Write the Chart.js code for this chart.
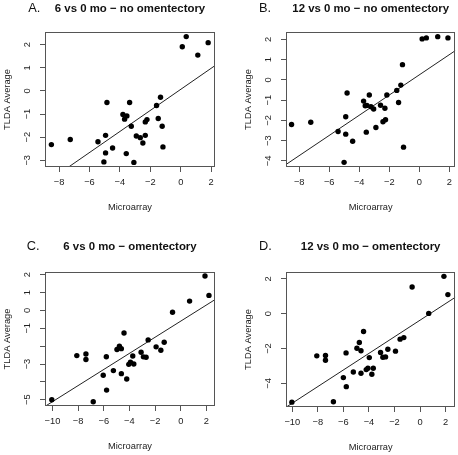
<!DOCTYPE html>
<html>
<head>
<meta charset="utf-8">
<script src="https://cdn.jsdelivr.net/npm/chart.js@4.4.1/dist/chart.umd.min.js"></script>
<style>
  body { margin: 0; background: #fff; }
  #fig { position: relative; width: 458px; height: 455px; background: #fff; }
  #fig canvas { position: absolute; }
</style>
</head>
<body>
<div id="fig">
  <canvas id="panelA" width="229" height="228" style="left:0;top:0"></canvas>
  <canvas id="panelB" width="229" height="228" style="left:229px;top:0"></canvas>
  <canvas id="panelC" width="229" height="227" style="left:0;top:228px"></canvas>
  <canvas id="panelD" width="229" height="227" style="left:229px;top:228px"></canvas>
</div>
<script>
// values: microarray (x) vs TLDA average (y)
const microA = [-8.50, -7.26, -5.44, -4.94, -4.85, -4.94, -5.05, -4.48, -3.80, -3.69, -3.54, -3.36, -3.25, -3.58, -3.08,
                -2.92, -2.66, -2.49, -2.33, -2.33, -2.22, -1.59, -1.48, -1.33, -1.22, -1.17, 0.10, 0.36, 1.12, 1.80];
const tldaA  = [-2.32, -2.10, -2.20, -1.92, -0.50, -2.68, -3.07, -2.47, -1.02, -1.22, -1.08, -0.50, -1.53, -2.71, -3.09,
                -1.95, -2.02, -2.25, -1.92, -1.34, -1.24, -0.63, -1.19, -0.27, -1.53, -2.42, 1.91, 2.35, 1.55, 2.09];

const microB = [-8.51, -7.23, -5.41, -4.90, -4.90, -4.81, -5.01, -4.44, -3.71, -3.60, -3.49, -3.33, -3.22, -3.53, -3.04,
                -2.89, -2.58, -2.42, -2.29, -2.25, -2.16, -1.50, -1.38, -1.23, -1.12, -1.05, 0.19, 0.47, 1.23, 1.91];
const tldaB  = [-2.20, -2.09, -2.55, -2.68, -1.82, -0.65, -4.07, -3.03, -1.05, -1.28, -1.26, -0.75, -1.33, -2.58, -1.44,
                -2.35, -1.25, -2.07, -1.40, -1.97, -0.75, -0.52, -1.12, -0.26, 0.75, -3.32, 2.02, 2.07, 2.13, 2.07];

const microC = [-10.05, -8.10, -7.39, -7.39, -6.82, -6.04, -5.78, -5.80, -5.25, -4.97, -4.78, -4.63, -4.63, -4.42, -4.21,
                -4.05, -3.92, -3.74, -3.66, -3.09, -2.91, -2.70, -2.54, -1.92, -1.55, -1.29, -0.64, 0.69, 1.89, 2.20];
const tldaC  = [-5.00, -2.53, -2.44, -2.75, -5.11, -3.63, -4.46, -2.59, -3.37, -2.19, -2.00, -2.14, -3.54, -1.26, -3.84,
                -3.02, -2.90, -2.55, -3.00, -2.34, -2.60, -2.62, -1.65, -2.04, -2.23, -1.78, -0.10, 0.52, 1.93, 0.84];

const microD = [-10.03, -8.08, -7.40, -7.40, -6.78, -6.00, -5.77, -5.79, -5.22, -4.94, -4.75, -4.62, -4.62, -4.42, -4.21,
                -4.08, -3.97, -3.77, -3.66, -3.09, -2.91, -2.70, -2.52, -1.92, -1.56, -1.27, -0.62, 0.68, 1.87, 2.18];
const tldaD  = [-5.08, -2.42, -2.40, -2.67, -5.06, -3.67, -4.19, -2.25, -3.35, -1.98, -1.65, -2.13, -3.42, -1.02, -3.21,
                -3.13, -2.52, -3.48, -3.13, -2.23, -2.50, -2.48, -2.04, -2.15, -1.46, -1.37, 1.54, 0.02, 2.15, 1.10];

// fitted lines: [slope, intercept]
const fitA = [0.456, 0.07];
const fitB = [0.498, 0.245];
const fitC = [0.451, -0.60];
const fitD = [0.477, -0.37];

// axis ticks
const xTicksAB = [-8, -6, -4, -2, 0, 2];
const xTicksCD = [-10, -8, -6, -4, -2, 0, 2];
const yTicksA = [-3, -2, -1, 0, 1, 2];
const yTicksB = [-4, -3, -2, -1, 0, 1, 2];
const yTicksC = [-5, -4, -3, -2, -1, 0, 1, 2];
const yLabelsC = ['\u22125', '', '\u22123', '', '\u22121', '0', '1', '2'];
const yTicksD = [-4, -2, 0, 2];

const FONT = "'Liberation Sans', Arial, Helvetica, sans-serif";
const LINE = '#555';
const TEXT = '#222';

function fmt(v) {
  return v < 0 ? '\u2212' + Math.abs(v) : String(v);
}

// box around the plot, rotated y tick labels, panel letter and title
const rStyle = {
  id: 'rStyle',
  afterDraw(chart, args, o) {
    const ctx = chart.ctx;
    const a = chart.chartArea;
    ctx.save();
    ctx.strokeStyle = LINE;
    ctx.lineWidth = 1;
    ctx.strokeRect(Math.round(a.left) + 0.5, Math.round(a.top) + 0.5,
                   Math.round(a.right - a.left) - 1, Math.round(a.bottom - a.top) - 1);

    const ys = chart.scales.y;
    ctx.fillStyle = TEXT;
    ctx.font = '9.3px ' + FONT;
    ctx.textAlign = 'center';
    ctx.textBaseline = 'middle';
    ys.ticks.forEach(t => {
      if (!t.label) return;
      ctx.save();
      ctx.translate(a.left - 17.8, ys.getPixelForValue(t.value));
      ctx.rotate(-Math.PI / 2);
      ctx.fillText(t.label, 0, 0);
      ctx.restore();
    });

    ctx.fillStyle = '#111';
    ctx.font = 'bold 11.4px ' + FONT;
    ctx.fillText(o.title, (a.left + a.right) / 2, o.headY);
    ctx.font = '12.8px ' + FONT;
    ctx.textAlign = 'left';
    ctx.fillText(o.letter, o.letterX, o.headY - 0.4);
    ctx.restore();
  }
};

function panel(id, letter, title, micro, tlda, fit, xRange, yRange, xTicks, yTicks, yLabels, box, letterX, headY) {
  const canvas = document.getElementById(id);
  const W = canvas.width, H = canvas.height;
  const pts = micro.map((m, i) => ({ x: m, y: tlda[i] }));
  const line = xRange.map(x => ({ x: x, y: fit[1] + fit[0] * x }));
  const axisFont = { family: FONT, size: 9.3 };

  new Chart(canvas, {
    type: 'scatter',
    data: {
      datasets: [
        { data: pts, pointRadius: 2.7, pointHoverRadius: 2.7, pointBackgroundColor: '#000', pointBorderWidth: 0 },
        { data: line, showLine: true, borderColor: '#222', borderWidth: 1, pointRadius: 0, pointHoverRadius: 0 }
      ]
    },
    options: {
      responsive: false,
      animation: false,
      events: [],
      layout: { padding: { left: box.left - 45, top: box.top, right: W - box.right, bottom: H - box.bottom - 48 } },
      plugins: {
        legend: { display: false },
        tooltip: { enabled: false },
        rStyle: { letter: letter, title: title, letterX: letterX, headY: headY }
      },
      scales: {
        x: {
          type: 'linear', min: xRange[0], max: xRange[1], bounds: 'data',
          afterBuildTicks: s => { s.ticks = xTicks.map(v => ({ value: v })); },
          afterFit: s => { s.height = 48; },
          grid: { drawOnChartArea: false, drawTicks: true, tickLength: 5, color: LINE },
          border: { display: false },
          ticks: { padding: 4.5, font: axisFont, color: TEXT, maxRotation: 0, autoSkip: false, callback: v => fmt(v) },
          title: { display: true, text: 'Microarray', font: axisFont, color: TEXT, padding: { top: 0, bottom: 1.8 } }
        },
        y: {
          type: 'linear', min: yRange[0], max: yRange[1], bounds: 'data',
          afterBuildTicks: s => { s.ticks = yTicks.map(v => ({ value: v })); },
          afterFit: s => { s.width = 45; },
          grid: { drawOnChartArea: false, drawTicks: true, tickLength: 5, color: LINE },
          border: { display: false },
          ticks: { display: false, callback: (v, i) => yLabels ? yLabels[i] : fmt(v) },
          title: { display: true, text: 'TLDA Average', font: axisFont, color: TEXT, padding: { top: 2, bottom: 0 } }
        }
      }
    },
    plugins: [rStyle]
  });
}

panel('panelA', 'A.', '6 vs 0 mo \u2212 no omentectory', microA, tldaA, fitA,
      [-8.92, 2.25], [-3.29, 2.55], xTicksAB, yTicksA, null,
      { left: 45, top: 32, right: 215, bottom: 167 }, 28.3, 8.8);
panel('panelB', 'B.', '12 vs 0 mo \u2212 no omentectory', microB, tldaB, fitB,
      [-8.88, 2.40], [-4.30, 2.36], xTicksAB, yTicksB, null,
      { left: 57, top: 32, right: 227, bottom: 167 }, 30, 8.8);
panel('panelC', 'C.', '6 vs 0 mo \u2212 omentectory', microC, tldaC, fitC,
      [-10.58, 2.67], [-5.35, 2.15], xTicksCD, yTicksC, yLabelsC,
      { left: 45, top: 44, right: 215, bottom: 178 }, 26.7, 19);
panel('panelD', 'D.', '12 vs 0 mo \u2212 omentectory', microD, tldaD, fitD,
      [-10.49, 2.76], [-5.36, 2.40], xTicksCD, yTicksD, null,
      { left: 57, top: 44, right: 227, bottom: 179 }, 30, 19);
</script>
</body>
</html>
